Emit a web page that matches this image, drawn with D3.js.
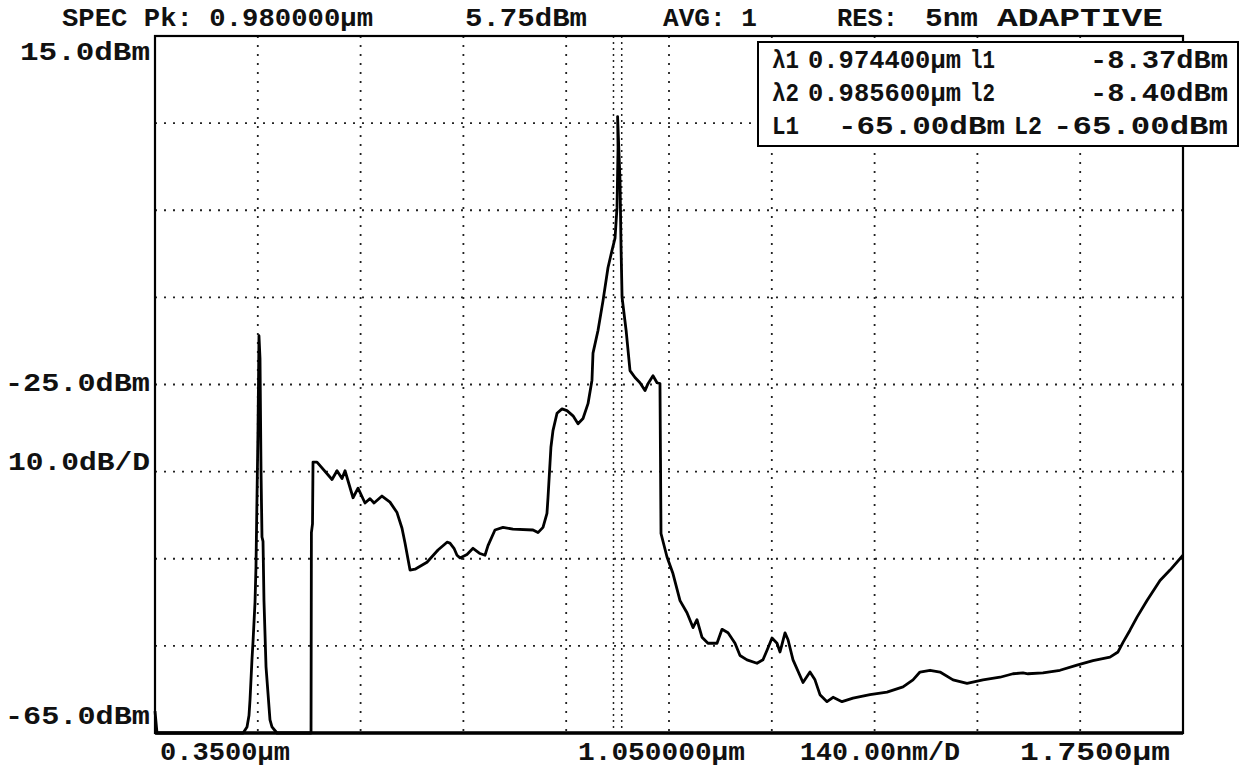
<!DOCTYPE html>
<html><head><meta charset="utf-8">
<script src="https://cdn.jsdelivr.net/npm/d3@7"></script>
<style>
body{margin:0;background:#fff}
svg{display:block}
text{font-family:"Liberation Mono","DejaVu Sans Mono",monospace;font-weight:bold;fill:#111;font-size:26px;white-space:pre}
</style>
</head><body>
<svg id="c" width="1247" height="771"></svg>
<script>
// ---------- DATA ----------
const wavelengthUm = [0.3500,0.3527,0.4700,0.4753,0.4780,0.4794,0.4821,0.4835,0.4862,0.4875,0.4889,0.4903,0.4916,0.4930,0.4944,0.4957,0.4971,0.4984,0.5012,0.5066,0.5093,0.5161,
0.5625,0.5630,0.5645,0.5652,0.5706,0.5911,0.5979,0.6047,0.6088,0.6197,0.6265,0.6360,0.6428,0.6483,0.6591,0.6700,0.6796,0.6864,0.6905,0.6973,0.7041,0.7204,0.7354,0.7477,0.7517,0.7572,0.7613,0.7654,0.7749,0.7831,0.7926,0.7994,0.8035,0.8130,0.8239,0.8375,0.8648,0.8716,0.8784,0.8838,0.8852,0.8879,
0.8892,0.8920,0.8975,0.9043,0.9111,0.9193,0.9261,0.9329,0.9397,0.9451,0.9465,0.9533,0.9601,0.9669,0.9724,0.9765,0.9792,0.9806,0.9800,0.9833,0.9847,0.9861,0.9916,0.9969,1.0037,1.0105,1.0173,1.0214,1.0282,1.0337,1.0377,
1.0384,1.0391,1.0473,1.0554,1.0650,1.0745,1.0827,1.0881,1.0949,1.1031,1.1154,1.1222,1.1304,1.1399,1.1467,1.1562,1.1698,1.1780,1.1835,1.1903,1.1971,1.2012,1.2080,1.2121,1.2189,1.2325,1.2420,1.2488,1.2556,1.2652,1.2734,1.2856,1.3006,1.3237,1.3469,1.3687,1.3823,1.3918,1.4055,1.4191,1.4368,1.4559,1.4776,1.5008,1.5185,1.5321,1.5389,1.5593,1.5825,1.6056,1.6274,1.6506,1.6615,1.6683,1.6778,1.6874,1.7010,1.7187,1.7323,1.7500];
const powerDbm = [-62.5,-65.0,-65.0,-64.3,-63.0,-61.2,-56.5,-54.5,-50.0,-46.0,-38.0,-30.0,-19.4,-22.0,-35.0,-42.5,-43.0,-49.8,-57.4,-63.5,-64.3,-65.0,
-65.0,-42.0,-41.0,-33.9,-33.9,-35.9,-34.9,-35.8,-34.9,-38.0,-36.9,-38.6,-38.1,-38.6,-37.8,-38.5,-39.7,-41.5,-43.2,-46.3,-46.2,-45.4,-44.0,-43.1,-43.2,-43.8,-44.6,-44.9,-44.5,-43.8,-44.4,-44.6,-43.5,-41.7,-41.4,-41.6,-41.7,-42.0,-41.4,-39.8,-38.0,-34.1,
-32.2,-30.3,-28.3,-27.8,-28.0,-28.6,-29.5,-28.9,-27.2,-24.5,-21.4,-18.8,-15.4,-11.6,-9.6,-8.2,-4.7,2.2,5.75,-1.6,-9.3,-15.0,-18.8,-23.4,-24.2,-24.8,-25.7,-24.9,-24.0,-24.8,-24.9,
-33.4,-42.1,-44.8,-46.7,-49.8,-51.2,-52.9,-52.0,-54.0,-54.7,-54.7,-53.1,-53.5,-54.7,-56.1,-56.6,-57.0,-56.6,-55.5,-54.1,-54.7,-55.7,-53.5,-54.3,-56.6,-59.2,-58.0,-58.9,-60.6,-61.4,-60.9,-61.4,-61.0,-60.6,-60.3,-59.7,-58.9,-58.0,-57.8,-58.0,-58.9,-59.3,-58.9,-58.6,-58.2,-58.1,-58.2,-58.1,-57.8,-57.2,-56.7,-56.3,-55.7,-54.6,-53.2,-51.7,-49.8,-47.5,-46.3,-44.6];

const xDomainUm = [0.35, 1.75];
const yDomainDbm = [-65, 15];
const xDivisions = 10;
const yDivisions = 8;
const markerUm = [0.9744, 0.9856];

const headerLabels = ["SPEC Pk: 0.980000µm", "5.75dBm", "AVG: 1", "RES:", "5nm", "ADAPTIVE"];
const yAxisLabels = ["15.0dBm", "-25.0dBm", "10.0dB/D", "-65.0dBm"];
const xAxisLabels = ["0.3500µm", "1.050000µm", "140.00nm/D", "1.7500µm"];
const legendRows = [
  ["λ1", "0.974400µm", "l1", "-8.37dBm"],
  ["λ2", "0.985600µm", "l2", "-8.40dBm"],
  ["L1", "-65.00dBm", "L2", "-65.00dBm"]
];

// ---------- LAYOUT ----------
const plot = {left:155, right:1183, top:36, bottom:733};
const headerSpans = [[62,373],[465,587],[663,757],[837,898],[925,978],[997,1163]];
const headerBaseline = 26;
const yLabelSpans = [[20,150],[5,150],[8,150],[5,150]];
const yLabelBaselines = [60,391,470,724];
const xLabelSpans = [[160,290],[578,745],[800,960],[1020,1170]];
const xLabelBaseline = 760;
const legendBox = {x0:758, x1:1238, y0:42, y1:146};
const legendBaselines = [68,101,134];
const legendSpans = [
  [[772,799],[808,961],[970,995],[1090,1228]],
  [[772,799],[808,961],[970,995],[1090,1228]],
  [[772,799],[838,1005],[1014,1042],[1053,1228]]
];

const svg = d3.select("#c");
const x = d3.scaleLinear().domain(xDomainUm).range([plot.left, plot.right]);
const y = d3.scaleLinear().domain(yDomainDbm).range([plot.bottom, plot.top]);

// grid
const xStep = (xDomainUm[1]-xDomainUm[0])/xDivisions;
const yStep = (yDomainDbm[1]-yDomainDbm[0])/yDivisions;
const xGrid = d3.range(1, xDivisions).map(i => xDomainUm[0] + i*xStep);
const yGrid = d3.range(1, yDivisions).map(i => yDomainDbm[0] + i*yStep);

const g = svg.append("g");
g.selectAll("line.vg").data(xGrid).join("line")
  .attr("x1", d=>x(d)).attr("x2", d=>x(d))
  .attr("y1", plot.top).attr("y2", plot.bottom)
  .attr("stroke", "#222").attr("stroke-width", 1.8).attr("stroke-dasharray", "2,7");
g.selectAll("line.hg").data(yGrid).join("line")
  .attr("x1", plot.left).attr("x2", plot.right)
  .attr("y1", d=>y(d)).attr("y2", d=>y(d))
  .attr("stroke", "#222").attr("stroke-width", 1.8).attr("stroke-dasharray", "2,7");

// marker lines
g.selectAll("line.mk").data(markerUm).join("line")
  .attr("x1", d=>x(d)).attr("x2", d=>x(d))
  .attr("y1", plot.top).attr("y2", plot.bottom)
  .attr("stroke", "#222").attr("stroke-width", 1.5).attr("stroke-dasharray", "2,4");

// trace
const pts = wavelengthUm.map((w,i)=>[w, powerDbm[i]]);
g.append("path").datum(pts)
  .attr("d", d3.line().x(d=>x(d[0])).y(d=>y(d[1])))
  .attr("fill", "none").attr("stroke", "#000").attr("stroke-width", 2.8)
  .attr("stroke-linejoin", "round");

// frame
g.append("rect").attr("x", plot.left).attr("y", plot.top)
  .attr("width", plot.right-plot.left).attr("height", plot.bottom-plot.top)
  .attr("fill", "none").attr("stroke", "#000").attr("stroke-width", 2.2);
g.append("line").attr("x1", plot.left).attr("x2", plot.right)
  .attr("y1", plot.bottom).attr("y2", plot.bottom)
  .attr("stroke", "#000").attr("stroke-width", 3.5);

function fitText(sel, s, span, baseline){
  sel.append("text").attr("x", span[0]).attr("y", baseline)
    .attr("textLength", span[1]-span[0]).attr("lengthAdjust", "spacingAndGlyphs")
    .text(s);
}
headerLabels.forEach((s,i)=>fitText(svg, s, headerSpans[i], headerBaseline));
yAxisLabels.forEach((s,i)=>fitText(svg, s, yLabelSpans[i], yLabelBaselines[i]));
xAxisLabels.forEach((s,i)=>fitText(svg, s, xLabelSpans[i], xLabelBaseline));

// legend box
svg.append("rect").attr("x", legendBox.x0).attr("y", legendBox.y0)
  .attr("width", legendBox.x1-legendBox.x0).attr("height", legendBox.y1-legendBox.y0)
  .attr("fill", "#fff").attr("stroke", "#000").attr("stroke-width", 2);
legendRows.forEach((row,r)=>row.forEach((s,c)=>fitText(svg, s, legendSpans[r][c], legendBaselines[r])));
</script>
</body></html>
